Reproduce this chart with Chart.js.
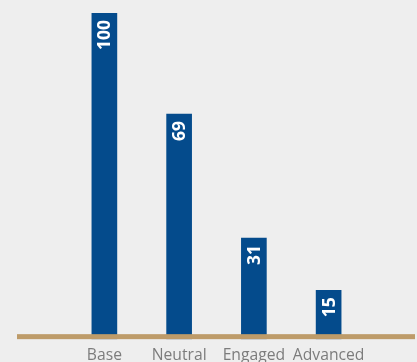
<!DOCTYPE html>
<html>
<head>
<meta charset="utf-8">
<script src="https://cdn.jsdelivr.net/npm/chart.js@4/dist/chart.umd.min.js"></script>
<style>
  html, body { margin: 0; padding: 0; background: #eeeeee; overflow: hidden; }
  #wrap { position: relative; width: 417px; height: 380px; }
</style>
</head>
<body>
<div id="wrap"><canvas id="chart"></canvas></div>
<script>
const categories = ['Base', 'Neutral', 'Engaged', 'Advanced'];
const values = [100, 69, 31, 15];

const BAR_COLOR = '#044b8c';
const BASE_COLOR = '#bd9b69';

// value labels written vertically inside the top of each bar
const barLabels = {
  id: 'barLabels',
  afterDatasetsDraw(chart) {
    const ctx = chart.ctx;
    const meta = chart.getDatasetMeta(0);
    ctx.save();
    ctx.fillStyle = '#ffffff';
    ctx.font = 'bold 17.5px "Open Sans", sans-serif';
    ctx.textAlign = 'right';
    ctx.textBaseline = 'middle';
    meta.data.forEach((bar, i) => {
      ctx.save();
      ctx.translate(bar.x + 1, bar.y + 7);
      ctx.rotate(-Math.PI / 2);
      ctx.fillText(String(values[i]), 0, 0);
      ctx.restore();
    });
    ctx.restore();
  }
};

// thick tan baseline across the bottom of the bars
const baseLine = {
  id: 'baseLine',
  afterDatasetsDraw(chart) {
    const ctx = chart.ctx;
    const y = chart.scales.y.getPixelForValue(0);
    ctx.save();
    ctx.fillStyle = BASE_COLOR;
    ctx.fillRect(chart.chartArea.left - 50, y - 5, chart.chartArea.right - chart.chartArea.left + 99, 5);
    ctx.restore();
  }
};

new Chart(document.getElementById('chart'), {
  type: 'bar',
  data: {
    labels: categories,
    datasets: [{
      data: values,
      backgroundColor: BAR_COLOR,
      barThickness: 25
    }]
  },
  options: {
    responsive: true,
    maintainAspectRatio: false,
    animation: false,
    layout: { padding: { top: 13, left: 67, right: 51, bottom: 8 } },
    plugins: {
      legend: { display: false },
      tooltip: { enabled: false }
    },
    scales: {
      x: {
        grid: { display: false, drawTicks: false },
        border: { display: false },
        ticks: {
          color: '#7c7c7c',
          padding: 7,
          autoSkip: false,
          maxRotation: 0,
          minRotation: 0,
          font: { family: '"Open Sans", sans-serif', size: 15.7 }
        }
      },
      y: {
        display: false,
        min: 0,
        max: 100
      }
    }
  },
  plugins: [barLabels, baseLine]
});
</script>
</body>
</html>
